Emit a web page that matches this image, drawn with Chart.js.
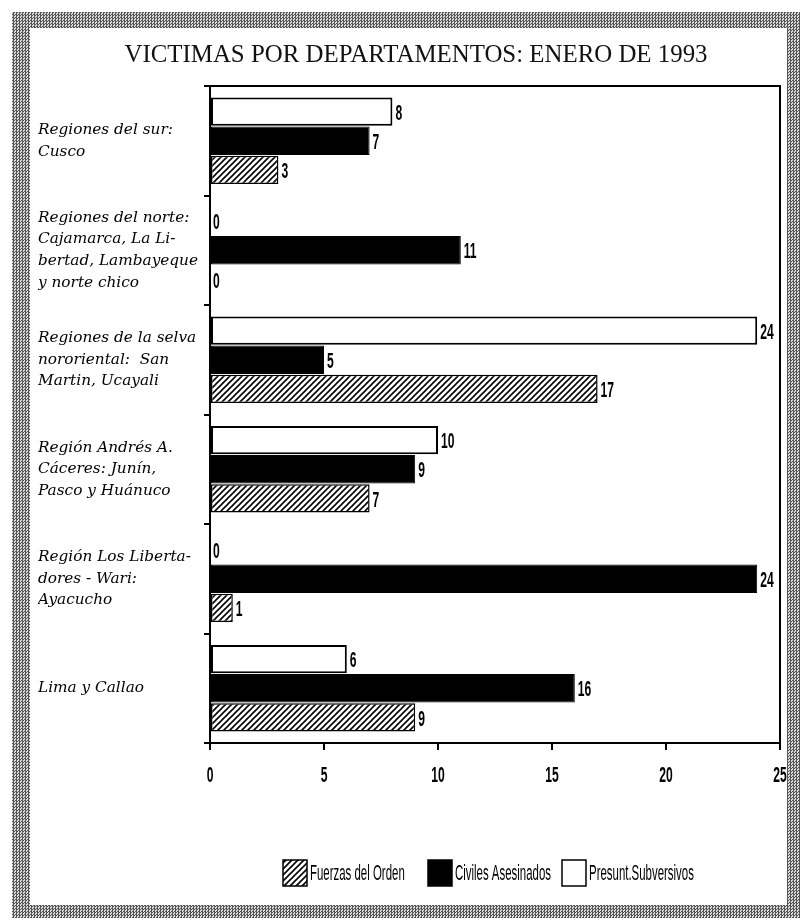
<!DOCTYPE html>
<html>
<head>
<meta charset="utf-8">
<script src="https://cdn.jsdelivr.net/npm/chart.js@4.4.0/dist/chart.umd.min.js"></script>
<style>
  html, body { margin: 0; padding: 0; background: #fff; }
  #frame { position: absolute; left: 12px; top: 12px; width: 788px; height: 906px;
    background: repeating-conic-gradient(#555 0 25%, #dcdcdc 0 50%) 0 0 / 3px 3px; }
  #paper { position: absolute; left: 30px; top: 28px; width: 757px; height: 877px; background: #fff; }
  #wrap { position: absolute; left: 0; top: 0; width: 800px; height: 918px; }
</style>
</head>
<body>
<div id="frame"></div>
<div id="paper"></div>
<div id="wrap"><canvas id="chart"></canvas></div>
<script>
  // data
  const regiones = [
    ["Regiones del sur:", "Cusco"],
    ["Regiones del norte:", "Cajamarca, La Li-", "bertad, Lambayeque", "y norte chico"],
    ["Regiones de la selva", "nororiental:  San", "Martin, Ucayali"],
    ["Región Andrés A.", "Cáceres: Junín,", "Pasco y Huánuco"],
    ["Región Los Liberta-", "dores - Wari:", "Ayacucho"],
    ["Lima y Callao"]
  ];
  const presuntSubversivos = [8, 0, 24, 10, 0, 6];
  const civilesAsesinados = [7, 11, 5, 9, 24, 16];
  const fuerzasDelOrden = [3, 0, 17, 7, 1, 9];
  const xTicks = [0, 5, 10, 15, 20, 25];
  const titulo = "VICTIMAS POR DEPARTAMENTOS: ENERO DE 1993";

  // diagonal hatch ////
  function hatch() {
    const c = document.createElement('canvas');
    c.width = 6; c.height = 6;
    const g = c.getContext('2d');
    g.fillStyle = '#fff'; g.fillRect(0, 0, 6, 6);
    g.strokeStyle = '#000'; g.lineWidth = 1.6;
    g.beginPath();
    g.moveTo(-1, 7); g.lineTo(7, -1);
    g.moveTo(-1, 1); g.lineTo(1, -1);
    g.moveTo(5, 7); g.lineTo(7, 5);
    g.stroke();
    return g.createPattern(c, 'repeat');
  }
  const rayado = hatch();

  // squeezed sans text like the old printout numbers
  function narrow(ctx, text, x, y, align, size, sx, weight) {
    ctx.save();
    ctx.translate(x, y);
    ctx.scale(sx, 1);
    ctx.font = (weight || 'bold') + ' ' + size + 'px "Liberation Sans", Arial, sans-serif';
    ctx.textAlign = align;
    ctx.textBaseline = 'middle';
    ctx.fillStyle = '#000';
    ctx.fillText(text, 0, 0);
    ctx.restore();
  }

  const decor = {
    id: 'decor',
    afterDraw(chart) {
      const { ctx, chartArea: a, scales: { x } } = chart;
      ctx.save();
      // frame round the plot
      ctx.strokeStyle = '#000';
      ctx.lineWidth = 2;
      ctx.strokeRect(a.left, a.top, a.right - a.left, a.bottom - a.top);

      // title
      ctx.font = '26px "Liberation Serif", "Times New Roman", serif';
      const w = ctx.measureText(titulo).width;
      ctx.save();
      ctx.translate(416, 62);
      ctx.scale(583 / w, 1);
      ctx.textAlign = 'center';
      ctx.textBaseline = 'alphabetic';
      ctx.fillStyle = '#111';
      ctx.fillText(titulo, 0, 0);
      ctx.restore();

      // value labels at the bar ends
      chart.data.datasets.forEach((ds, i) => {
        chart.getDatasetMeta(i).data.forEach((bar, j) => {
          narrow(ctx, String(ds.data[j]), bar.x + 3, bar.y + 2, 'left', 22, 0.55);
        });
      });

      // x tick labels
      x.ticks.forEach((t, k) => {
        narrow(ctx, String(t.value), x.getPixelForTick(k), a.bottom + 33, 'center', 22, 0.55);
      });

      // legend (reverse order, as in the original)
      const boxX = [283, 428, 562];
      const ly = 860;
      const items = chart.data.datasets.slice().reverse();
      items.forEach((ds, k) => {
        ctx.fillStyle = ds.backgroundColor;
        ctx.fillRect(boxX[k], ly, 24, 26);
        ctx.lineWidth = 1.5;
        ctx.strokeStyle = '#000';
        ctx.strokeRect(boxX[k], ly, 24, 26);
        narrow(ctx, ds.label, boxX[k] + 27, ly + 14, 'left', 22, 0.52, 'normal');
      });
      ctx.restore();
    }
  };

  const ctx = document.getElementById('chart').getContext('2d');
  new Chart(ctx, {
    type: 'bar',
    data: {
      labels: regiones,
      datasets: [
        { label: 'Presunt.Subversivos', data: presuntSubversivos,
          backgroundColor: '#fff', borderColor: '#000', borderWidth: 2, borderSkipped: false },
        { label: 'Civiles Asesinados', data: civilesAsesinados,
          backgroundColor: '#000', borderColor: '#000', borderWidth: 1, borderSkipped: false },
        { label: 'Fuerzas del Orden', data: fuerzasDelOrden,
          backgroundColor: rayado, borderColor: '#000', borderWidth: 1.5, borderSkipped: false }
      ]
    },
    options: {
      indexAxis: 'y',
      responsive: true,
      maintainAspectRatio: false,
      animation: false,
      categoryPercentage: 0.8,
      barPercentage: 0.97,
      layout: { padding: { left: 38, top: 86, right: 20, bottom: 0 } },
      plugins: {
        legend: { display: false },
        title: { display: false },
        tooltip: { enabled: false }
      },
      scales: {
        x: {
          min: 0, max: 25,
          afterBuildTicks(scale) { scale.ticks = xTicks.map(v => ({ value: v })); },
          afterFit(scale) { scale.height = 175; },
          ticks: { display: false },
          grid: { drawOnChartArea: false, drawTicks: true, tickLength: 7, color: '#000', lineWidth: 2 },
          border: { display: true, color: '#000', width: 2 }
        },
        y: {
          afterFit(scale) { scale.width = 172; },
          ticks: {
            crossAlign: 'far',
            color: '#000',
            font: { family: '"DejaVu Serif", serif', size: 15.3, style: 'italic', lineHeight: 1.42 }
          },
          grid: { drawOnChartArea: false, drawTicks: true, tickLength: 6, color: '#000', lineWidth: 2 },
          border: { display: true, color: '#000', width: 2 }
        }
      }
    },
    plugins: [decor]
  });
</script>
</body>
</html>
